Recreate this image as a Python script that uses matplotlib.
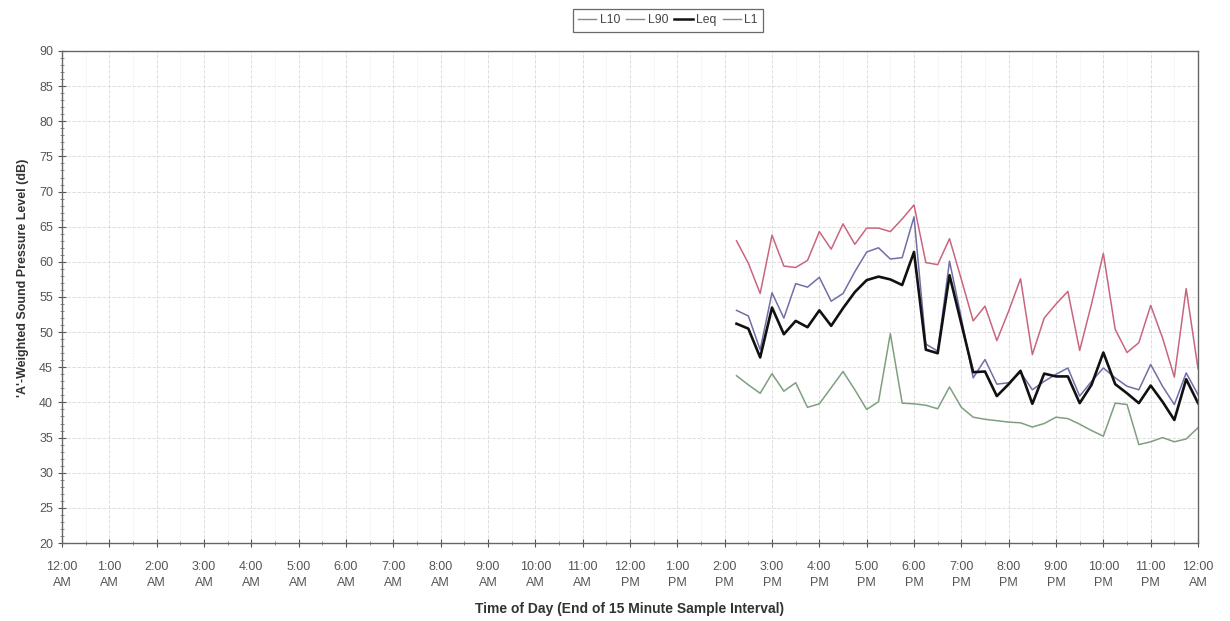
import matplotlib
matplotlib.use("Agg")
import matplotlib.pyplot as plt
import matplotlib.dates as mdates
import pandas as pd

plt.rcParams['font.family'] = ['Liberation Sans', 'DejaVu Sans']

# ---- data ----
start_time = "2000-01-01 14:15"
end_time = "2000-01-02 00:00"
times = pd.date_range(start_time, end_time, freq="15min")

L10 = [53.1, 52.3, 47.5, 55.6, 52.0, 56.9, 56.4, 57.8, 54.4, 55.5,
       58.6, 61.4, 62.0, 60.4, 60.6, 66.4, 48.3, 47.3, 60.1, 52.0,
       43.5, 46.1, 42.6, 42.8, 44.3, 41.8, 43.0, 44.0, 44.9, 40.9,
       43.0, 44.9, 43.5, 42.3, 41.8, 45.4, 42.3, 39.7, 44.2, 41.1]
L90 = [43.8, 42.5, 41.3, 44.1, 41.6, 42.8, 39.3, 39.8, 42.1, 44.4,
       41.8, 39.0, 40.1, 49.8, 39.9, 39.8, 39.6, 39.1, 42.2, 39.3,
       37.9, 37.6, 37.4, 37.2, 37.1, 36.5, 37.0, 37.9, 37.7, 36.9,
       36.0, 35.2, 39.9, 39.7, 34.0, 34.4, 35.0, 34.4, 34.8, 36.4]
Leq = [51.2, 50.5, 46.4, 53.5, 49.7, 51.6, 50.7, 53.1, 50.9, 53.4,
       55.7, 57.4, 57.9, 57.5, 56.7, 61.4, 47.5, 47.0, 58.1, 51.2,
       44.3, 44.4, 40.9, 42.6, 44.5, 39.8, 44.1, 43.7, 43.7, 39.9,
       42.5, 47.1, 42.6, 41.3, 39.9, 42.4, 40.1, 37.5, 43.3, 39.9]
L1 = [63.0, 59.8, 55.5, 63.8, 59.4, 59.2, 60.2, 64.3, 61.8, 65.4,
      62.5, 64.8, 64.8, 64.3, 66.1, 68.1, 59.9, 59.6, 63.3, 57.5,
      51.6, 53.7, 48.8, 53.0, 57.6, 46.8, 52.0, 54.0, 55.8, 47.4,
      54.0, 61.2, 50.4, 47.1, 48.5, 53.8, 49.2, 43.6, 56.2, 44.8]

x_tick_labels = ["12:00\nAM", "1:00\nAM", "2:00\nAM", "3:00\nAM", "4:00\nAM",
                 "5:00\nAM", "6:00\nAM", "7:00\nAM", "8:00\nAM", "9:00\nAM",
                 "10:00\nAM", "11:00\nAM", "12:00\nPM", "1:00\nPM", "2:00\nPM",
                 "3:00\nPM", "4:00\nPM", "5:00\nPM", "6:00\nPM", "7:00\nPM",
                 "8:00\nPM", "9:00\nPM", "10:00\nPM", "11:00\nPM", "12:00\nAM"]
series_names = ["L10", "L90", "Leq", "L1"]

# ---- figure ----
fig = plt.figure(figsize=(12.3, 6.21), dpi=100)
ax = fig.add_axes([0.0504, 0.1256, 0.9236, 0.7923])

colors = {"L10": "#6f6fa8", "L90": "#7f9f7f", "Leq": "#111111", "L1": "#c9667d"}
widths = {"L10": 1.1, "L90": 1.1, "Leq": 1.9, "L1": 1.1}
data = {"L10": L10, "L90": L90, "Leq": Leq, "L1": L1}

for name in series_names:
    ax.plot(times, data[name], color=colors[name], lw=widths[name], label=name)

x0 = pd.Timestamp("2000-01-01 00:00")
x1 = pd.Timestamp("2000-01-02 00:00")
ax.set_xlim(x0, x1)
ax.set_ylim(20, 90)

ax.xaxis.set_minor_locator(mdates.MinuteLocator(byminute=[30]))
ticks = pd.date_range(x0, x1, freq="1h")
ax.set_xticks(ticks)
ax.set_xticklabels(x_tick_labels, linespacing=1.45)
ax.set_yticks(range(20, 91, 5))
ax.yaxis.set_minor_locator(matplotlib.ticker.MultipleLocator(1))

ax.tick_params(axis='both', which='major', direction='inout', length=6, width=0.8,
               labelsize=9, labelcolor='#555555', color='#555555')
ax.tick_params(axis='both', which='minor', direction='inout', length=3, width=0.6,
               color='#777777')
ax.tick_params(axis='x', which='major', pad=10)

ax.grid(True, which='major', axis='both', color='#d8d8d8', lw=0.6, ls=(0, (4, 2)))
ax.grid(True, which='minor', axis='x', color='#e6e6e6', lw=0.5, ls=(0, (2, 2)))
ax.set_axisbelow(True)

for side in ['left', 'bottom', 'top', 'right']:
    ax.spines[side].set_color('#666666')
    ax.spines[side].set_linewidth(1.0)

ax.set_ylabel("'A'-Weighted Sound Pressure Level (dB)", fontsize=9,
              fontweight='bold', color='#333333')
ax.yaxis.set_label_coords(-0.029, 0.54)
ax.set_xlabel("Time of Day (End of 15 Minute Sample Interval)", fontsize=10,
              fontweight='bold', color='#333333', labelpad=9)

leg_handles = [matplotlib.lines.Line2D([], [], color='#888888' if n != 'Leq' else '#111111',
                                       lw=1.0 if n != 'Leq' else 1.8) for n in series_names]
leg = fig.legend(leg_handles, series_names, loc='center', bbox_to_anchor=(0.543, 0.967),
                 ncol=4, fontsize=8.7, handlelength=1.5, handletextpad=0.3,
                 columnspacing=0.5, frameon=True, fancybox=False, borderpad=0.45,
                 edgecolor='#444444', labelcolor='#444444')
leg.get_frame().set_linewidth(0.9)

fig.savefig("out.png", dpi=100, facecolor='white')
